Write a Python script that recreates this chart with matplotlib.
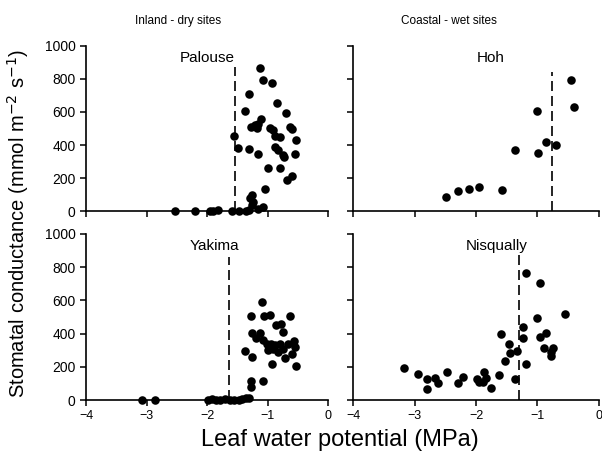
import matplotlib
matplotlib.use("Agg")
import matplotlib.pyplot as plt

plt.rcParams['font.family'] = ['Liberation Sans', 'DejaVu Sans']

# leaf water potential (MPa) / stomatal conductance (mmol m-2 s-1)
palouse_x = [-2.53, -2.20, -1.95, -1.90, -1.82, -1.58, -1.47, -1.36, -1.30, -1.16,
             -1.56, -1.48, -1.30, -1.15, -1.12, -1.07, -0.93, -1.31, -0.85, -1.37,
             -0.69, -1.27, -1.21, -1.15, -1.10, -1.18, -0.96, -0.91, -0.88, -0.79,
             -0.63, -0.59, -0.53, -0.88, -0.82, -0.75, -0.73, -0.54, -0.99, -0.80,
             -0.60, -0.68, -1.04, -1.26, -1.29, -1.24, -1.25, -1.07]
palouse_y = [0, 0, 0, 0, 8, 0, 0, 0, 5, 10,
             455, 380, 376, 343, 865, 794, 774, 707, 657, 606,
             596, 511, 521, 525, 556, 501, 501, 491, 455, 451,
             511, 497, 430, 390, 370, 339, 329, 345, 259, 259,
             212, 188, 131, 97, 77, 57, 36, 26]
palouse_cut = -1.54

hoh_x = [-2.48, -2.30, -2.11, -1.95, -1.57, -1.37, -1.00, -0.99, -0.86, -0.70, -0.46, -0.41]
hoh_y = [86, 122, 134, 146, 130, 369, 609, 349, 417, 397, 794, 633]
hoh_cut = -0.76

yakima_x = [-3.08, -2.86, -1.98, -1.92, -1.85, -1.78, -1.70, -1.62, -1.55, -1.47,
            -1.42, -1.36, -1.30, -1.27, -1.27, -1.07, -1.09, -1.28, -1.06, -0.96,
            -0.63, -0.86, -0.77, -0.75, -1.25, -1.12, -1.19, -1.07, -1.37, -1.25,
            -0.95, -0.88, -0.80, -0.91, -0.99, -0.83, -0.74, -0.66, -0.56, -0.55,
            -0.60, -0.93, -0.53, -0.71, -1.01]
yakima_y = [0, 0, 0, 5, 3, 0, 4, 0, 2, 0,
            6, 10, 12, 80, 114, 116, 588, 508, 508, 512,
            508, 452, 456, 408, 402, 402, 371, 361, 297, 261,
            340, 330, 340, 305, 300, 290, 310, 340, 355, 320,
            275, 217, 207, 251, 337]
yakima_cut = -1.63

nisqually_x = [-3.17, -2.94, -2.79, -2.67, -2.62, -2.80, -2.47, -2.30, -2.21, -1.99,
               -1.95, -1.87, -1.83, -1.89, -1.76, -1.63, -1.59, -1.53, -1.47, -1.44,
               -1.34, -1.36, -1.23, -1.23, -1.18, -1.19, -0.96, -1.01, -0.96, -0.86,
               -0.89, -0.75, -0.78, -0.78, -0.56]
nisqually_y = [195, 159, 127, 131, 100, 66, 171, 104, 137, 127,
               110, 171, 131, 106, 70, 151, 398, 237, 337, 285,
               295, 127, 438, 376, 215, 763, 707, 492, 382, 402,
               315, 315, 287, 265, 518]
nisqually_cut = -1.30

x_ticks = [-4, -3, -2, -1, 0]
y_ticks = [0, 200, 400, 600, 800, 1000]

fig = plt.figure(figsize=(6.02, 4.66), dpi=100)

# [left, bottom, width, height] in figure fractions
boxes = [[0.1429, 0.5472, 0.4020, 0.3541],
         [0.5864, 0.5472, 0.4086, 0.3541],
         [0.1429, 0.1416, 0.4020, 0.3563],
         [0.5864, 0.1416, 0.4086, 0.3563]]
panels = [("Palouse", palouse_x, palouse_y, palouse_cut, 870, 0.50),
          ("Hoh", hoh_x, hoh_y, hoh_cut, 845, 0.56),
          ("Yakima", yakima_x, yakima_y, yakima_cut, 860, 0.53),
          ("Nisqually", nisqually_x, nisqually_y, nisqually_cut, 905, 0.585)]

for i, (name, xs, ys, cut, top, tx) in enumerate(panels):
	ax = fig.add_axes(boxes[i])
	ax.scatter(xs, ys, s=38, color='black', zorder=3, clip_on=False, linewidths=0)
	ax.plot([cut, cut], [0, top], color='black', lw=1.2, dashes=(6, 3))
	ax.set_xlim(-4, 0)
	ax.set_ylim(0, 1000)
	ax.set_xticks(x_ticks)
	ax.set_yticks(y_ticks)
	for s in ['top', 'right']:
		ax.spines[s].set_visible(False)
	for s in ['left', 'bottom']:
		ax.spines[s].set_linewidth(1.2)
	ax.tick_params(direction='out', length=4, width=1.1, labelsize=9)
	ax.tick_params(axis='y', labelsize=10)
	if i < 2:
		ax.set_xticklabels([])
	if i % 2 == 1:
		ax.set_yticklabels([])
	ax.text(tx, 0.97, name, transform=ax.transAxes, ha='center', va='top', fontsize=11)

fig.text(0.295, 0.955, "Inland - dry sites", ha='center', va='center', fontsize=8.5)
fig.text(0.745, 0.955, "Coastal - wet sites", ha='center', va='center', fontsize=8.5)
fig.text(0.03, 0.52, "Stomatal conductance (mmol m$^{-2}$ s$^{-1}$)", rotation=90,
         ha='center', va='center', fontsize=14.5)
fig.text(0.565, 0.056, "Leaf water potential (MPa)", ha='center', va='center', fontsize=17)

fig.savefig("out.png", dpi=100)
